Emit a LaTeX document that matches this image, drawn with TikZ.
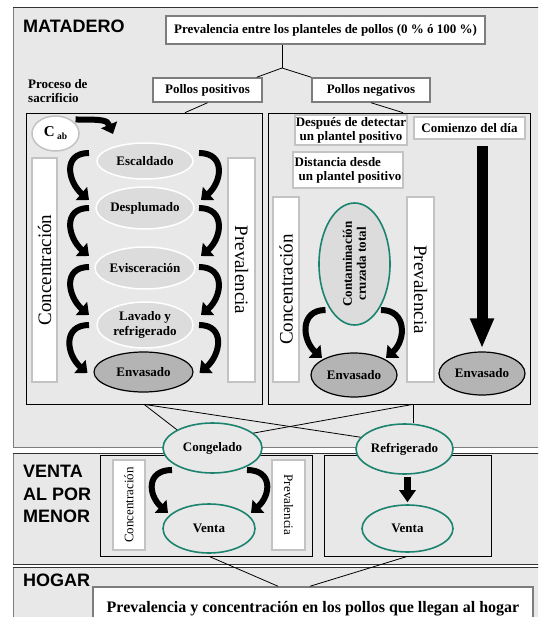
\documentclass[tikz,border=0pt]{standalone}
\usepackage{fontspec}
\setmainfont{Liberation Serif}
\setsansfont{Liberation Sans}
\usepackage{tikz}
\usetikzlibrary{arrows.meta, shapes.geometric, calc}
\definecolor{panel}{RGB}{232,232,232}
\definecolor{frame}{RGB}{125,125,125}
\definecolor{soft}{RGB}{195,195,195}
\definecolor{stagefill}{RGB}{220,220,220}
\definecolor{packfill}{RGB}{180,180,180}
\definecolor{sea}{RGB}{28,132,110}

\begin{document}
\begin{tikzpicture}[x=1pt, y=-1pt,
  section/.style={font=\sffamily\bfseries\fontsize{18}{22.5}\selectfont, inner sep=0pt, align=left},
  infobox/.style={draw=frame, line width=1.5pt, fill=white, inner sep=0pt,
                  font=\bfseries\fontsize{13}{14}\selectfont, align=center},
  notebox/.style={infobox, draw=soft},
  zone/.style={draw=black, line width=0.7pt, fill=panel, inner sep=0pt},
  measure/.style={draw=soft, line width=1.5pt, fill=white, inner sep=0pt,
                  font=\fontsize{19}{19}\selectfont},
  stage/.style={ellipse, draw=white, line width=1.5pt, fill=stagefill, inner sep=0pt,
                minimum width=96pt, font=\bfseries\fontsize{13}{14.5}\selectfont, align=center},
  pack/.style={ellipse, draw=black, line width=1.2pt, fill=packfill, inner sep=0pt,
               minimum width=86pt, minimum height=43pt, font=\bfseries\fontsize{13}{14}\selectfont},
  store/.style={ellipse, draw=sea, line width=1.6pt, fill=panel, inner sep=0pt,
                font=\bfseries\fontsize{13}{14}\selectfont, align=center},
  link/.style={line width=0.8pt},
  bent/.style={line width=6pt, -{Triangle[length=10pt, width=17pt]}},
  column/.style={line width=11pt, -{Triangle[length=30pt, width=22pt]}},
  drop/.style={line width=7pt, -{Triangle[length=12pt, width=16pt]}, shorten <=2pt, shorten >=2pt},
]
  \clip (0,0) rectangle (538,617);

  \draw[fill=panel, draw=frame, line width=1pt] (13,8) rectangle (545,447);
  \draw[fill=panel, draw=frame, line width=1pt] (13,453) rectangle (545,564);
  \draw[fill=panel, draw=frame, line width=1pt] (13,567) rectangle (545,625);
  \foreach \y in {8, 453, 564, 567}
    \draw[line width=1pt, black!80] (13,\y) -- (545,\y);

  \node[section, anchor=base west] (slaughter) at (23,33) {MATADERO};
  \node[section, anchor=north west] (retail) at (23,465) {VENTA\\AL POR\\MENOR};
  \node[section, anchor=base west] (home) at (23,586) {HOGAR};

  \node[infobox, minimum width=319pt, minimum height=28pt] (flocks) at (325.5,30) {Prevalencia entre los planteles de pollos (0 \% ó 100 \%)};
  \node[infobox, minimum width=109pt, minimum height=24pt] (pos) at (207.5,90) {Pollos positivos};
  \node[infobox, minimum width=118pt, minimum height=24pt] (neg) at (371,90) {Pollos negativos};
  \node[anchor=north west, inner sep=0pt, align=left, font=\bfseries\fontsize{13}{14}\selectfont] (proc) at (28,79) {Proceso de\\sacrificio};

  \node[zone, minimum width=236pt, minimum height=291pt] (killzone) at (144,258.5) {};
  \node[zone, minimum width=262pt, minimum height=291pt] (cleanzone) at (399,258.5) {};

  \node[measure, rotate=90, minimum width=224pt, minimum height=25pt] (concA) at (44.5,270) {Concentración};
  \node[measure, rotate=-90, minimum width=224pt, minimum height=27pt] (prevA) at (241.5,270) {Prevalencia};
  \node[measure, rotate=90, minimum width=185pt, minimum height=26pt] (concB) at (286,289.5) {Concentración};
  \node[measure, rotate=-90, minimum width=185pt, minimum height=27pt] (prevB) at (420.5,289.5) {Prevalencia};

  \node[ellipse, draw=soft, line width=1.5pt, fill=white, inner sep=0pt,
        minimum width=47pt, minimum height=35pt] (cab) at (55.5,133.5)
        {\bfseries\fontsize{15}{15}\selectfont C\,\raisebox{-3pt}{\fontsize{9.5}{9.5}\selectfont ab}};
  \node[stage, minimum height=36pt] (scald) at (145,161) {Escaldado};
  \node[stage, minimum height=42pt] (pluck) at (145,208) {Desplumado};
  \node[stage, minimum height=42pt] (gut) at (145,268) {Evisceración};
  \node[stage, minimum height=46pt] (wash) at (145,325) {Lavado y\\refrigerado};
  \node[pack, minimum width=99pt, minimum height=40pt] (packA) at (143.5,372) {Envasado};

  \node[notebox, minimum width=112pt, minimum height=30pt] (after) at (351,130) {Después de detectar\\un plantel positivo};
  \node[notebox, minimum width=110pt, minimum height=36pt, align=left] (dist) at (348,170) {Distancia desde\\\hspace{4pt}un plantel positivo};
  \node[notebox, minimum width=111pt, minimum height=22pt] (day) at (469.5,128) {Comienzo del día};
  \node[store, fill=stagefill, rotate=90, minimum width=122pt, minimum height=71pt] (cross) at (354.5,264) {Contaminación\\cruzada total};
  \node[pack, minimum height=44pt] (packB) at (354,375) {Envasado};
  \node[pack] (packC) at (482,373.5) {Envasado};

  \node[zone, minimum width=212pt, minimum height=101pt] (retailA) at (206,505.5) {};
  \node[zone, minimum width=167pt, minimum height=101pt] (retailB) at (407.5,505.5) {};
  \node[measure, rotate=90, minimum width=90pt, minimum height=32pt, font=\fontsize{13}{13}\selectfont] (concC) at (129,505) {Concentración};
  \node[measure, rotate=-90, minimum width=90pt, minimum height=33pt, font=\fontsize{13}{13}\selectfont] (prevC) at (288.5,505) {Prevalencia};

  \node[store, minimum width=99pt, minimum height=50pt] (freeze) at (212.5,448) {Congelado};
  \node[store, minimum width=97pt, minimum height=50pt] (chill) at (404.5,449) {Refrigerado};
  \node[store, minimum width=92pt, minimum height=49pt] (ventaA) at (209,528.5) {Venta};
  \node[store, minimum width=91pt, minimum height=47pt] (ventaB) at (407.5,528.5) {Venta};

  \node[infobox, minimum width=440pt, minimum height=44pt, font=\bfseries\fontsize{16}{16}\selectfont] (arrival) at (313,609) {Prevalencia y concentración en los pollos que llegan al hogar};

  \coordinate (fork) at (282,68);
  \draw[link] (fork |- flocks.south) -- (fork);
  \draw[link] (fork) -- ([xshift=-6pt]pos.north east);
  \draw[link] (fork) -- (neg.north west);
  \draw[link] (pos.south) -- ([xshift=41pt]killzone.north);
  \draw[link] (neg.south) -- ([xshift=4pt]cleanzone.north);
  \draw[link] (killzone.south) -- (freeze.north west);
  \draw[link] (killzone.south) -- (chill.165);
  \coordinate (tap) at ([xshift=14pt]cleanzone.south);
  \draw[link] (tap) -- (tap |- chill.north);
  \draw[link] (tap) -- (freeze.20);
  \draw[link] (ventaA.south |- retailA.south) -- ([xshift=-35pt]arrival.north);
  \draw[link] (ventaB.south |- retailB.south) -- ([xshift=-3pt]arrival.north);

  \draw[bent] ([shift={(20,-14)}]cab.center) .. controls +(28,0) and +(-6,-14) .. ([shift={(-32,-27)}]scald.center);
  \foreach \a/\b/\s/\e in {scald/pluck/-8/-8, pluck/gut/0/-12, gut/wash/-1/-10, wash/packA/0/1}{
    \draw[bent] ([shift={(-56,\s)}]\a.center) .. controls +(-27,0) and +(-21,-18) .. ([shift={(-56,\e)}]\b.center);
    \draw[bent] ([shift={(54,\s)}]\a.center) .. controls +(27,0) and +(21,-18) .. ([shift={(56,\e)}]\b.center);
  }
  \draw[bent] ([shift={(-29,46)}]cross.center) .. controls +(-26,0) and +(-20,-18) .. ([shift={(-32,-17)}]packB.center);
  \draw[bent] ([shift={(26.5,46)}]cross.center) .. controls +(26,0) and +(20,-18) .. ([shift={(32,-17)}]packB.center);
  \draw[bent] ([shift={(-40.5,22)}]freeze.center) .. controls +(-26,0) and +(-20,-18) .. ([shift={(-41,-15.5)}]ventaA.center);
  \draw[bent] ([shift={(34.5,22)}]freeze.center) .. controls +(26,0) and +(20,-18) .. ([shift={(42,-15.5)}]ventaA.center);
  \draw[column] ($(packC.north |- day.south)+(0,6)$) -- ($(packC.north)+(0,-3)$);
  \draw[drop] (chill.south -| ventaB.north) -- (ventaB.north);
\end{tikzpicture}
\end{document}
